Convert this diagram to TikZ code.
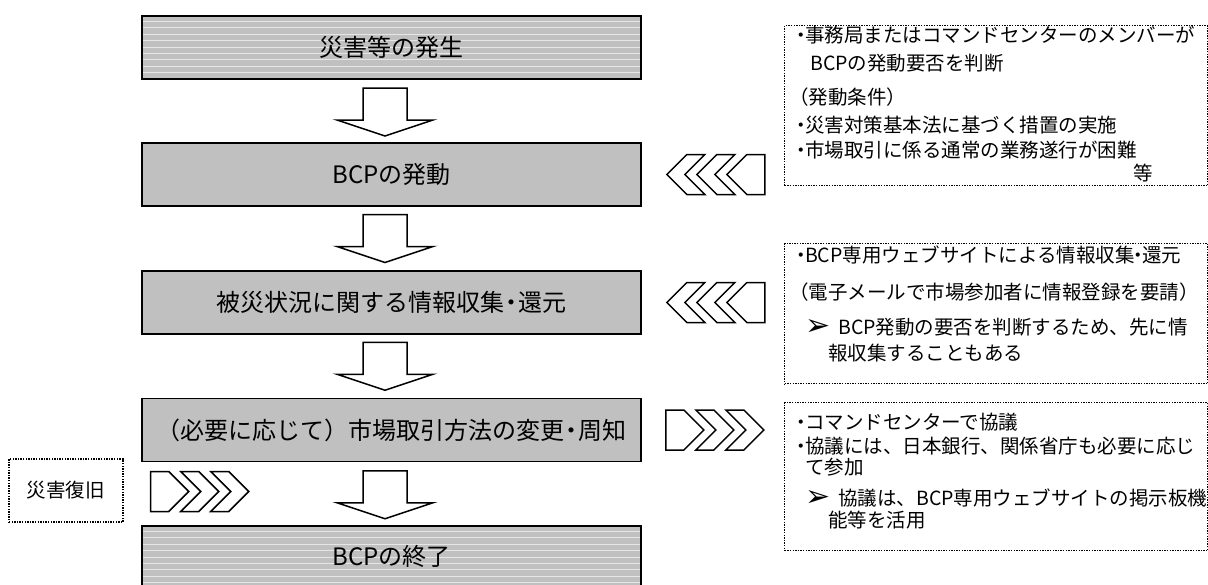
\documentclass[tikz,border=0pt]{standalone}
\usepackage{fontspec}
\setmainfont{Noto Sans CJK JP}
\newfontfamily\dejavu{DejaVu Sans}
\usetikzlibrary{calc}
\newcommand\nkg{\makebox[0.4em][c]{・}}
\newcommand\mnkg{\makebox[0.55em][c]{・}}
\newcommand\arrb{{\dejavu\fontsize{30}{30}\selectfont ➢}}
\definecolor{boxgray}{HTML}{C0C0C0}
\definecolor{stripecol}{HTML}{E6E6E6}
\begin{document}
\begin{tikzpicture}[x=1pt,y=1pt,
  mainbox/.style={draw=black, line width=1.8pt, fill=boxgray, minimum width=499pt, minimum height=63pt, inner sep=0pt, font=\fontsize{24}{28}\selectfont},
  stripebox/.style={mainbox, path picture={\foreach \k in {1,...,12}{\draw[stripecol, line width=0.9pt] ($(path picture bounding box.north west)+(-5,-\k*6.4+1)$) -- ++(520,0);}}},
  rbox/.style={draw=black, line width=1.4pt, dash pattern=on 1.4pt off 1.2pt, inner sep=0pt},
  txt/.style={anchor=west, inner sep=0pt, font=\fontsize{19.5}{23}\selectfont},
  bul/.style={anchor=west, inner sep=0pt},
  arrowline/.style={draw=black, fill=white, line width=1.5pt, line join=miter},
  downarr/.pic={\path[arrowline] (-22,24) -- (22,24) -- (22,-8) -- (48,-8) -- (0,-24) -- (-48,-8) -- (-22,-8) -- cycle;},
  chevgroup/.pic={
    \path[arrowline] (0,20) -- (18,20) -- (38,0) -- (18,-20) -- (0,-20) -- cycle;
    \path[arrowline] (30,20) -- (48,20) -- (68,0) -- (48,-20) -- (30,-20) -- (50,0) -- cycle;
    \path[arrowline] (60,20) -- (78,20) -- (98,0) -- (78,-20) -- (60,-20) -- (80,0) -- cycle;}
]
\clip (0,0) rectangle (1208,-584);
\fill[white] (0,0) rectangle (1208,-584);

% main flow boxes
\node[stripebox] (b1) at (391.5,-47.5) {災害等の発生};
\node[mainbox] (b2) at (391.5,-174.5) {BCPの発動};
\node[mainbox] (b3) at (391.5,-302.5) {被災状況に関する情報収集\mnkg 還元};
\node[mainbox] (b4) at (391.5,-430) {（必要に応じて）市場取引方法の変更\mnkg 周知};
\node[stripebox, minimum height=60pt] (b5) at (391.5,-556) {BCPの終了};

% down arrows
\pic at ($(b1.south)!0.5!(b2.north)+(-6.5,-1)$) {downarr};
\pic at ($(b2.south)!0.5!(b3.north)+(-6.5,0)$) {downarr};
\pic at ($(b3.south)!0.5!(b4.north)+(-6.5,0)$) {downarr};
\pic at ($(b4.south)!0.5!(b5.north)+(-6.5,-1)$) {downarr};

% chevrons
\pic[xscale=-1] at ($(b2.east)+(123,0)$) {chevgroup};
\pic[xscale=-1] at ($(b3.east)+(123,0)$) {chevgroup};
\pic at ($(b4.east)+(24,0)$) {chevgroup};

% left note
\node[rbox, minimum width=114pt, minimum height=63pt, font=\fontsize{19.5}{23}\selectfont] (dr) at (66,-490.5) {災害復旧};
\pic at ($(dr.east)+(27,-1)$) {chevgroup};

% right boxes
\node[rbox, anchor=north west, minimum width=423pt, minimum height=160pt] (ra) at (784,-25) {};
\node[rbox, anchor=north west, minimum width=423pt, minimum height=140pt] (rb) at (784,-243) {};
\node[rbox, anchor=north west, minimum width=423pt, minimum height=148pt] (rc) at (784,-402) {};

% box A text
\node[txt] (a1) at (797,-35) {\nkg 事務局またはコマンドセンターのメンバーが};
\node[txt] (a2) at (810,-63) {BCPの発動要否を判断};
\node[txt] (a3) at (789,-97) {（発動条件）};
\node[txt] (a4) at (797,-125) {\nkg 災害対策基本法に基づく措置の実施};
\node[txt] (a5) at (797,-150) {\nkg 市場取引に係る通常の業務遂行が困難};
\node[txt] (a6) at (1133,-173) {等};

% box B text
\node[txt] (bb1) at (797,-255) {\nkg BCP専用ウェブサイトによる情報収集\nkg 還元};
\node[txt] (bb2) at (789,-292) {（電子メールで市場参加者に情報登録を要請）};
\node[bul] (bb3m) at (805,-327) {\arrb};
\node[txt] (bb3) at (838,-327) {BCP発動の要否を判断するため、先に情};
\node[txt] (bb4) at (828,-353) {報収集することもある};

% box C text
\node[txt] (c1) at (797,-422) {\nkg コマンドセンターで協議};
\node[txt] (c2) at (797,-446) {\nkg 協議には、日本銀行、関係省庁も必要に応じ};
\node[txt] (c3) at (805,-467) {て参加};
\node[bul] (c4m) at (805,-498) {\arrb};
\node[txt] (c4) at (838,-498) {協議は、BCP専用ウェブサイトの掲示板機};
\node[txt] (c5) at (828,-520) {能等を活用};
\end{tikzpicture}
\end{document}
